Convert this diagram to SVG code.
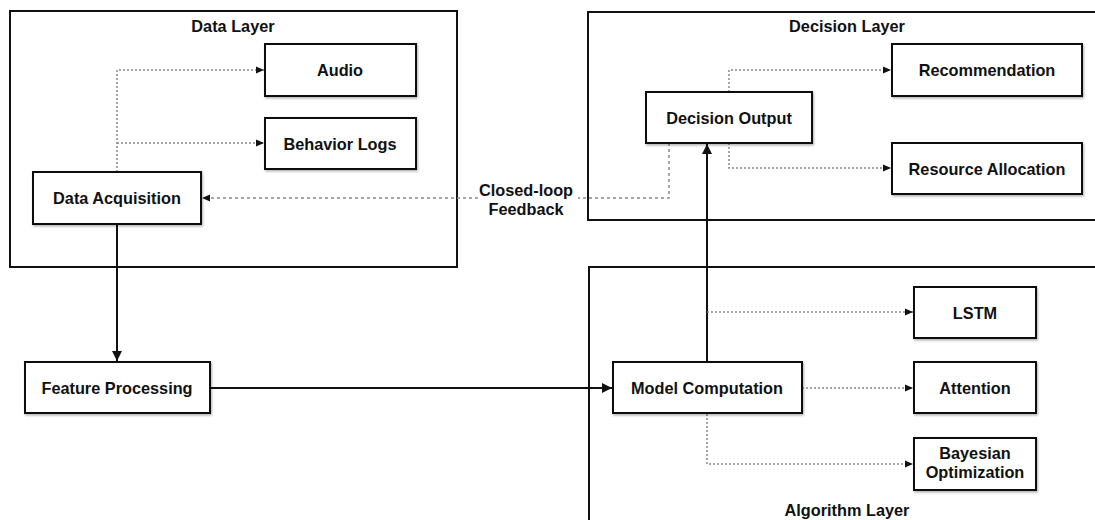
<svg xmlns="http://www.w3.org/2000/svg" width="1095" height="520" viewBox="0 0 1095 520">
<defs>
<style>
.layer{fill:none;stroke:#111;stroke-width:2}
.node{fill:#fff;stroke:#111;stroke-width:2;filter:url(#sh)}
.t{font-family:"Liberation Sans",Arial,sans-serif;font-weight:bold;font-size:16.3px;fill:#111;text-anchor:middle}
.solid{fill:none;stroke:#111;stroke-width:2}
.dot{fill:none;stroke:#888;stroke-width:1.5;stroke-dasharray:2,2}
.dash{fill:none;stroke:#888;stroke-width:1.5;stroke-dasharray:3,3}
</style>
<filter id="sh" x="-10%" y="-10%" width="120%" height="130%">
<feDropShadow dx="1" dy="1.5" stdDeviation="1.2" flood-color="#000" flood-opacity="0.3"/>
</filter>
<marker id="as" markerWidth="10" markerHeight="10" refX="10" refY="5" orient="auto" markerUnits="userSpaceOnUse" viewBox="0 0 10 10">
<path d="M0,0 L10,5 L0,10 z" fill="#111"/>
</marker>
<marker id="ad" markerWidth="8" markerHeight="8" refX="8" refY="4" orient="auto" markerUnits="userSpaceOnUse" viewBox="0 0 8 8">
<path d="M0,0.5 L8,4 L0,7.5 z" fill="#111"/>
</marker>
</defs>
<g id="layers">
<g id="data-layer"><rect class="layer" x="10" y="11" width="447" height="256"/><text class="t" x="233" y="32">Data Layer</text></g>
<g id="decision-layer"><rect class="layer" x="588" y="12" width="520" height="208"/><text class="t" x="847" y="32">Decision Layer</text></g>
<g id="algorithm-layer"><rect class="layer" x="589" y="267" width="520" height="270"/><text class="t" x="847" y="516">Algorithm Layer</text></g>
</g>
<g id="connectors">
<path class="dot" d="M117,172 V70 H264" marker-end="url(#ad)"/>
<path class="dot" d="M117,143 H264" marker-end="url(#ad)"/>
<path class="dot" d="M729,92 V70 H891" marker-end="url(#ad)"/>
<path class="dot" d="M729,143 V168 H891" marker-end="url(#ad)"/>
<path class="dash" d="M669,143 V198 H202" marker-end="url(#ad)"/>
<path class="solid" d="M117,224 V361" marker-end="url(#as)"/>
<path class="solid" d="M210,388 H612" marker-end="url(#as)"/>
<path class="solid" d="M707,362 V144" marker-end="url(#as)"/>
<path class="dot" d="M707,312 H913" marker-end="url(#ad)"/>
<path class="dot" d="M802,388 H913" marker-end="url(#ad)"/>
<path class="dot" d="M707,414 V464 H913" marker-end="url(#ad)"/>
<rect x="478" y="178" width="100" height="40" fill="#fff"/>
<text class="t" x="526" y="195.5">Closed-loop</text>
<text class="t" x="526" y="214.5">Feedback</text>
</g>
<g id="audio"><rect class="node" x="265" y="44" width="151" height="52"/><text class="t" x="340" y="75.5">Audio</text></g>
<g id="behavior-logs"><rect class="node" x="265" y="118" width="151" height="51"/><text class="t" x="340" y="149.5">Behavior Logs</text></g>
<g id="data-acquisition"><rect class="node" x="33" y="172" width="168" height="52"/><text class="t" x="117" y="203.5">Data Acquisition</text></g>
<g id="decision-output"><rect class="node" x="646" y="92" width="166" height="51"/><text class="t" x="729" y="123.5">Decision Output</text></g>
<g id="recommendation"><rect class="node" x="892" y="44" width="190" height="52"/><text class="t" x="987" y="75.5">Recommendation</text></g>
<g id="resource-allocation"><rect class="node" x="892" y="143" width="190" height="51"/><text class="t" x="987" y="174.5">Resource Allocation</text></g>
<g id="feature-processing"><rect class="node" x="25" y="362" width="185" height="51"/><text class="t" x="117" y="393.5">Feature Processing</text></g>
<g id="model-computation"><rect class="node" x="613" y="362" width="189" height="51"/><text class="t" x="707" y="393.5">Model Computation</text></g>
<g id="lstm"><rect class="node" x="914" y="287" width="122" height="51"/><text class="t" x="975" y="318.5">LSTM</text></g>
<g id="attention"><rect class="node" x="914" y="362" width="122" height="51"/><text class="t" x="975" y="393.5">Attention</text></g>
<g id="bayesian"><rect class="node" x="914" y="438" width="122" height="52"/><text class="t" x="975" y="459">Bayesian</text><text class="t" x="975" y="478">Optimization</text></g>
</svg>
